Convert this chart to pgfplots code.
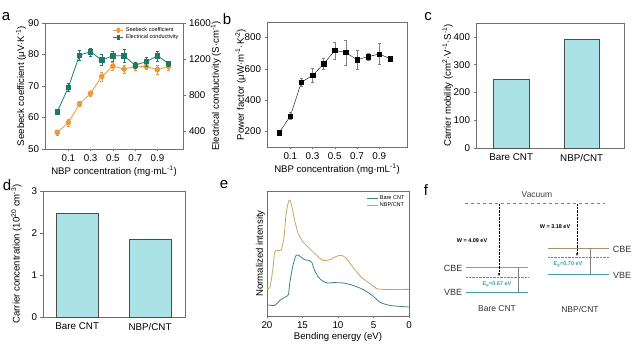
\documentclass[border=0pt]{standalone}
\usepackage{pgfplots}
\pgfplotsset{compat=1.18}
\usepackage{fontspec}
\setmainfont{Liberation Sans}
\usetikzlibrary{arrows.meta}
\definecolor{sorange}{HTML}{E89A3C}
\definecolor{cgreen}{HTML}{1E7A68}
\definecolor{barfill}{HTML}{AAE2E6}
\definecolor{eteal}{HTML}{3F8082}
\definecolor{etan}{HTML}{C9A45E}
\definecolor{cbe}{HTML}{A89070}
\definecolor{vbe}{HTML}{3FA0A8}
\definecolor{axgray}{HTML}{707070}
\pgfplotsset{
  myax/.style={
    scale only axis,
    /pgf/number format/assume math mode=true,
    /pgf/number format/1000 sep={},
    axis line style={axgray},
    tick style={axgray, thin},
    tick align=outside,
    major tick length=2.5pt,
    xtick pos=bottom, ytick pos=left,
    tick label style={font=\fontsize{9.8}{10}\selectfont},
    label style={font=\fontsize{9.6}{10}\selectfont},
    clip=false,
  },
}
\pgfplotstableread{
x y e
0.0 55.3 0.8
0.1 58.4 1.2
0.2 64.3 0.8
0.3 67.7 0.8
0.4 73.0 1.5
0.5 76.3 1.2
0.6 75.4 1.3
0.7 76.1 1.2
0.8 76.2 1.0
0.9 75.2 1.5
1.0 76.2 1.2
}\seebeck
\pgfplotstableread{
x y e
0.0 614 20
0.1 885 45
0.2 1243 55
0.3 1280 45
0.4 1188 60
0.5 1236 55
0.6 1236 70
0.7 1132 35
0.8 1170 50
0.9 1236 55
1.0 1150 30
}\conduct
\pgfplotstableread{
x y e
0.0 192 10
0.1 298 22
0.2 515 25
0.3 558 45
0.4 632 35
0.5 718 55
0.6 705 80
0.7 658 62
0.8 678 25
0.9 695 68
1.0 665 15
}\pf
\pgfplotstableread{
x y
20 0.09
18.9 0.085
18.2 0.125
17.5 0.15
17.0 0.17
16.8 0.26
16.4 0.39
15.9 0.485
15.4 0.48
14.7 0.45
14.1 0.445
13.7 0.43
13.3 0.365
12.6 0.30
11.6 0.265
10.7 0.267
9.3 0.264
7.9 0.245
6.4 0.21
5.0 0.157
4.1 0.11
2.7 0.085
1.3 0.077
0 0.072
}\bare
\pgfplotstableread{
x y
20 0.227
19.6 0.227
19.2 0.365
18.9 0.51
18.4 0.525
18.0 0.53
17.6 0.63
17.3 0.82
16.9 0.925
16.6 0.90
16.1 0.765
15.6 0.66
14.9 0.59
14.0 0.54
13.0 0.485
12.1 0.445
11.2 0.45
10.2 0.477
9.5 0.485
8.8 0.46
7.9 0.39
6.7 0.31
5.5 0.26
4.6 0.22
3.6 0.213
0 0.213
}\nbp
\begin{document}
\begin{tikzpicture}
\useasboundingbox (0pt,0pt) rectangle (643pt,350pt);
% panel letters
\node[font=\fontsize{15}{15}\selectfont] at (6pt,333pt) {a};
\node[font=\fontsize{15}{15}\selectfont] at (227pt,331pt) {b};
\node[font=\fontsize{15}{15}\selectfont] at (428pt,333pt) {c};
\node[font=\fontsize{15}{15}\selectfont] at (7pt,165pt) {d};
\node[font=\fontsize{15}{15}\selectfont] at (224pt,165pt) {e};
\node[font=\fontsize{15}{15}\selectfont] at (426pt,160pt) {f};
% ---------- a ----------
\begin{axis}[myax, at={(45pt,201pt)}, anchor=south west, width=138pt, height=126pt,
  xmin=-0.11, xmax=1.13, ymin=50, ymax=90,
  xtick={0.1,0.3,0.5,0.7,0.9}, ytick={50,60,70,80,90},
  xticklabels={0.1,0.3,0.5,0.7,0.9},
  xlabel={NBP concentration (mg·mL\textsuperscript{-1})},
  ylabel={Seebeck coefficient (μV·K\textsuperscript{-1})},
  ylabel style={yshift=-5pt},
  xlabel style={yshift=3pt},
  legend style={draw=none, fill=none, font=\fontsize{5.5}{6}\selectfont, at={(0.99,0.99)}, anchor=north east, row sep=-2pt, inner sep=1pt},
  legend cell align=left,
  legend image post style={xscale=0.6}]
\addplot[sorange, thick, mark=*, mark size=2.4pt, error bars/.cd, y dir=both, y explicit, error bar style={thin}, error mark options={rotate=90, mark size=1.5pt}] table[x=x,y=y,y error=e] {\seebeck};
\addlegendentry{Seebeck coefficient}
\addlegendimage{cgreen, thick, mark=square*, mark size=2.2pt}
\addlegendentry{Electrical conductivity}
\end{axis}
\begin{axis}[myax, at={(45pt,201pt)}, anchor=south west, width=138pt, height=126pt,
  xmin=-0.11, xmax=1.13, ymin=200, ymax=1600,
  axis x line=none, axis y line*=right, ytick pos=right,
  ytick={400,800,1200,1600},
  ylabel={Electrical conductivity (S·cm\textsuperscript{-1})},
  ylabel style={yshift=7pt}]
\addplot[cgreen, thick, mark=square*, mark size=2.2pt, error bars/.cd, y dir=both, y explicit, error bar style={thin}, error mark options={rotate=90, mark size=1.5pt}] table[x=x,y=y,y error=e] {\conduct};
\end{axis}
% ---------- b ----------
\begin{axis}[myax, at={(267pt,203pt)}, anchor=south west, width=140pt, height=125pt,
  xmin=-0.11, xmax=1.15, ymin=100, ymax=900,
  xtick={0.1,0.3,0.5,0.7,0.9}, ytick={200,400,600,800},
  xticklabels={0.1,0.3,0.5,0.7,0.9},
  xlabel={NBP concentration (mg·mL\textsuperscript{-1})},
  ylabel={Power factor (μW·m\textsuperscript{-1}·K\textsuperscript{-2})},
  ylabel style={yshift=-8pt},
  xlabel style={yshift=3pt}]
\addplot[black, mark=square*, mark size=2.2pt, error bars/.cd, y dir=both, y explicit, error bar style={thin,gray}, error mark options={rotate=90, mark size=1.5pt, gray}] table[x=x,y=y,y error=e] {\pf};
\end{axis}
% ---------- c ----------
\begin{axis}[myax, at={(476pt,202pt)}, anchor=south west, width=148pt, height=125pt,
  xmin=-0.5, xmax=1.6, ymin=0, ymax=450,
  xtick={0,1}, xticklabels={Bare CNT, NBP/CNT}, ytick={0,100,200,300,400},
  major x tick style={draw=none},
  ylabel={Carrier mobility (cm\textsuperscript{2}·V\textsuperscript{-1}·S\textsuperscript{-1})},
  ylabel style={yshift=-6pt},
  ybar, bar width=0.5]
\addplot[fill=barfill, draw=black!70] coordinates {(0,247) (1,390)};
\end{axis}
% ---------- d ----------
\begin{axis}[myax, at={(43pt,33pt)}, anchor=south west, width=142pt, height=126pt,
  xmin=-0.47, xmax=1.48, ymin=0, ymax=3,
  xtick={0,1}, xticklabels={Bare CNT, NBP/CNT}, ytick={0,1,2,3},
  major x tick style={draw=none},
  ylabel={Carrier concentration (10\textsuperscript{20} cm\textsuperscript{-3})},
  ylabel style={yshift=3pt},
  ybar, bar width=0.57]
\addplot[fill=barfill, draw=black!70] coordinates {(0,2.46) (1,1.86)};
\end{axis}
% ---------- e ----------
\begin{axis}[myax, at={(267pt,34pt)}, anchor=south west, width=142pt, height=125pt,
  x dir=reverse, xmin=0, xmax=20, ymin=0, ymax=1,
  xtick={0,5,10,15,20}, ytick=\empty,
  xlabel={Bending energy (eV)}, ylabel={Normalized intensity},
  xlabel style={yshift=3pt}, ylabel style={yshift=-4pt},
  legend style={draw=none, fill=none, font=\fontsize{5.5}{6}\selectfont, at={(0.99,0.99)}, anchor=north east, row sep=-2pt, inner sep=1pt},
  legend cell align=left, legend image post style={xscale=0.6}]
\addplot[eteal, thick, smooth] table {\bare};
\addlegendentry{Bare CNT}
\addplot[etan, thick, smooth] table {\nbp};
\addlegendentry{NBP/CNT}
\end{axis}
% ---------- f ----------
\begin{axis}[scale only axis, at={(420pt,0pt)}, anchor=south west, width=223pt, height=180pt,
  xmin=420, xmax=643, ymin=170, ymax=350, y dir=reverse, axis lines=none, clip=false]
\addplot[gray, dashed, thin] coordinates {(465,203) (605,203)};
\node[font=\fontsize{8.5}{9}\selectfont, text=black!75] at (axis cs:537,195) {Vacuum};
% bare
\addplot[cbe, thick] coordinates {(466,267) (528,267)};
\addplot[gray, densely dotted, thin] coordinates {(466,277) (528,277)};
\addplot[vbe, thick] coordinates {(466,292) (528,292)};
\addplot[black, densely dotted, thin, -{Stealth[length=3pt,width=2pt]}] coordinates {(499,204) (499,276)};
\addplot[gray, thin] coordinates {(518,267) (518,292)};
\node[font=\fontsize{9}{9}\selectfont, text=black!80] at (axis cs:453,268) {CBE};
\node[font=\fontsize{9}{9}\selectfont, text=black!80] at (axis cs:453,292) {VBE};
\node[font=\bfseries\fontsize{5.5}{6}\selectfont] at (axis cs:472,241) {W = 4.09 eV};
\node[font=\bfseries\fontsize{5.5}{6}\selectfont, text=vbe] at (axis cs:497,284) {E\textsubscript{g}=0.67 eV};
\node[font=\fontsize{8.5}{9}\selectfont, text=black!80] at (axis cs:497,309) {Bare CNT};
% nbp
\addplot[cbe, thick] coordinates {(548,248) (609,248)};
\addplot[gray, densely dotted, thin] coordinates {(548,257) (609,257)};
\addplot[vbe, thick] coordinates {(548,274) (609,274)};
\addplot[black, densely dotted, thin, -{Stealth[length=3pt,width=2pt]}] coordinates {(577,204) (577,256)};
\addplot[gray, thin] coordinates {(590,248) (590,274)};
\node[font=\fontsize{9}{9}\selectfont, text=black!80] at (axis cs:622,249) {CBE};
\node[font=\fontsize{9}{9}\selectfont, text=black!80] at (axis cs:622,275) {VBE};
\node[font=\bfseries\fontsize{5.5}{6}\selectfont] at (axis cs:555,227) {W = 3.18 eV};
\node[font=\bfseries\fontsize{5.5}{6}\selectfont, text=vbe] at (axis cs:568,264) {E\textsubscript{g}=0.70 eV};
\node[font=\fontsize{8.5}{9}\selectfont, text=black!80] at (axis cs:580,309) {NBP/CNT};
\end{axis}
\end{tikzpicture}
\end{document}
